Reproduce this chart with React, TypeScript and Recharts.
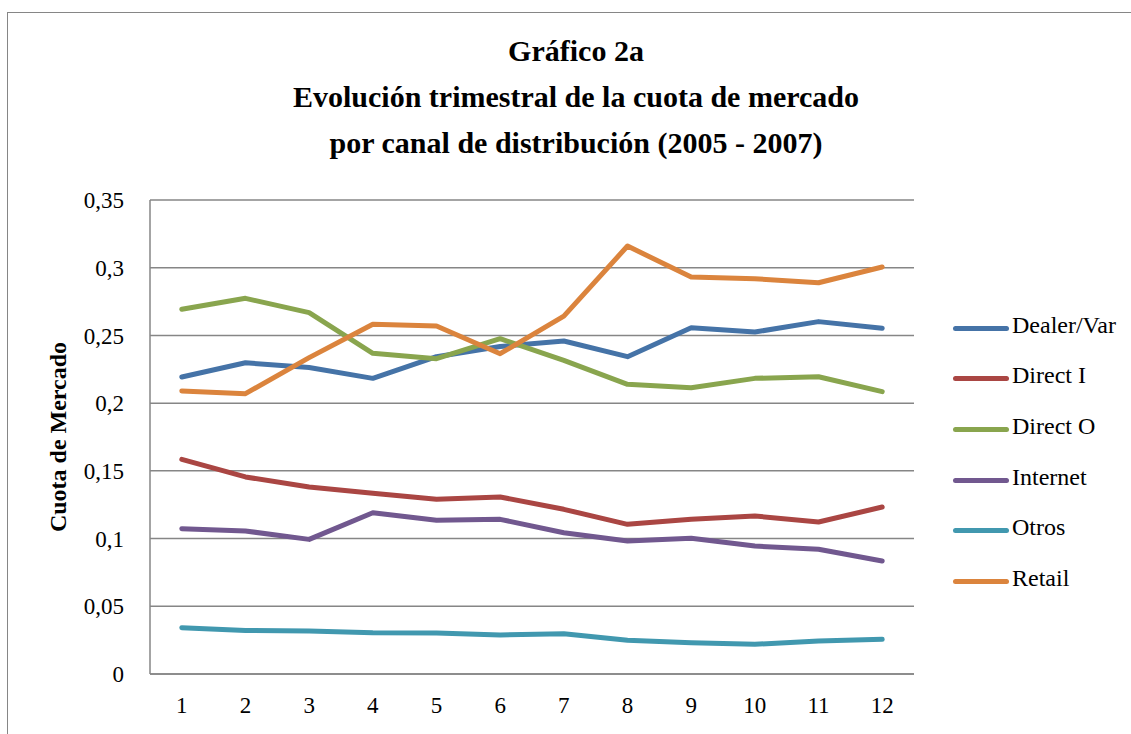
import { LineChart, Line, XAxis, YAxis, CartesianGrid } from 'recharts';

const quarters = ['1', '2', '3', '4', '5', '6', '7', '8', '9', '10', '11', '12'];

const dealerVar = [0.2193, 0.2298, 0.2263, 0.2183, 0.2343, 0.2418, 0.2459, 0.2343, 0.2557, 0.2525, 0.2602, 0.2553];
const directI = [0.1585, 0.1455, 0.1381, 0.1334, 0.129, 0.1307, 0.1216, 0.1105, 0.1142, 0.1167, 0.1122, 0.1233];
const directO = [0.2693, 0.2774, 0.2668, 0.2368, 0.2328, 0.2476, 0.2316, 0.2139, 0.2114, 0.2183, 0.2195, 0.2085];
const internet = [0.1073, 0.1056, 0.0994, 0.1191, 0.1135, 0.1142, 0.1043, 0.0982, 0.1002, 0.0945, 0.0921, 0.0834];
const otros = [0.0342, 0.0322, 0.0318, 0.0305, 0.0303, 0.0288, 0.0298, 0.0249, 0.0231, 0.0219, 0.0244, 0.0256];
const retail = [0.209, 0.207, 0.2336, 0.2582, 0.257, 0.2365, 0.2643, 0.316, 0.2931, 0.2919, 0.2889, 0.3005];

const yTicks = [0, 0.05, 0.1, 0.15, 0.2, 0.25, 0.3, 0.35];

const series = [
  { key: 'dealer', name: 'Dealer/Var', values: dealerVar, color: '#4573a7' },
  { key: 'directI', name: 'Direct I', values: directI, color: '#aa4643' },
  { key: 'directO', name: 'Direct O', values: directO, color: '#89a54e' },
  { key: 'internet', name: 'Internet', values: internet, color: '#71588f' },
  { key: 'otros', name: 'Otros', values: otros, color: '#4198af' },
  { key: 'retail', name: 'Retail', values: retail, color: '#db843d' },
];

const data = quarters.map((q, i) => {
  const row: Record<string, string | number> = { q };
  series.forEach((s) => { row[s.key] = s.values[i]; });
  return row;
});

const serif = '"Liberation Serif", "Times New Roman", serif';
const grey = '#868686';
const fmt = (v: number) => String(v).replace('.', ',');
const tickStyle = { fill: '#000', fontSize: 23, fontFamily: serif };

export default function App() {
  return (
    <div style={{ position: 'fixed', inset: 0, overflow: 'hidden', background: '#fff', fontFamily: serif }}>
      {/* outer chart frame */}
      <div style={{
        position: 'absolute', left: 7, top: 12, width: 1200, height: 800,
        borderTop: `1.5px solid ${grey}`, borderLeft: `1.5px solid ${grey}`,
      }} />

      <div style={{
        position: 'absolute', left: 0, width: 1152, top: 28, textAlign: 'center',
        fontWeight: 'bold', fontSize: 30, lineHeight: '46px', color: '#000',
      }}>
        <div>Gráfico 2a</div>
        <div>Evolución trimestral de la cuota de mercado</div>
        <div>por canal de distribución (2005 - 2007)</div>
      </div>

      <div style={{
        position: 'absolute', left: 58, top: 437, transform: 'translate(-50%, -50%) rotate(-90deg)',
        whiteSpace: 'nowrap', fontWeight: 'bold', fontSize: 24, color: '#000',
      }}>
        Cuota de Mercado
      </div>

      <div style={{ position: 'absolute', left: 0, top: 0 }}>
        <LineChart width={1131} height={734} data={data}
          margin={{ top: 200, right: 217, bottom: 0, left: 0 }}>
          <CartesianGrid vertical={false} stroke={grey} strokeWidth={1.5} />
          <XAxis dataKey="q" height={60} tickLine={false} tickMargin={17}
            padding={{ left: 31.8, right: 31.8 }}
            axisLine={{ stroke: grey, strokeWidth: 1.5 }} tick={tickStyle} />
          <YAxis width={150} domain={[0, 0.35]} ticks={yTicks} tickFormatter={fmt}
            tickLine={false} tickMargin={20} interval={0}
            axisLine={{ stroke: grey, strokeWidth: 1.5 }} tick={tickStyle} />
          {series.map((s) => (
            <Line key={s.key} dataKey={s.key} name={s.name} type="linear" stroke={s.color}
              strokeWidth={5} strokeLinecap="round" strokeLinejoin="round"
              dot={false} activeDot={false} isAnimationActive={false} />
          ))}
        </LineChart>
      </div>

      <div style={{ position: 'absolute', left: 953, top: 303 }}>
        {series.map((s) => (
          <div key={s.key} style={{ display: 'flex', alignItems: 'center', height: 50.6 }}>
            <span style={{ width: 56, height: 5, background: s.color, borderRadius: 2.5, marginRight: 3 }} />
            <span style={{ fontSize: 24, color: '#000', marginTop: -6 }}>{s.name}</span>
          </div>
        ))}
      </div>
    </div>
  );
}
